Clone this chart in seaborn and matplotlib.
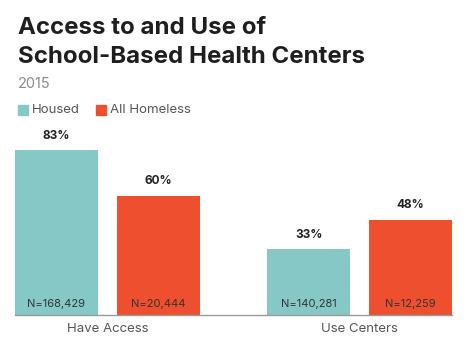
import seaborn as sns
import matplotlib.pyplot as plt
import pandas as pd

categories = ['Have Access', 'Use Centers']
groups = ['Housed', 'All Homeless']
housed = [83, 33]
homeless = [60, 48]
housed_n = ['N=168,429', 'N=140,281']
homeless_n = ['N=20,444', 'N=12,259']
title_lines = ['Access to and Use of', 'School-Based Health Centers']

colors = {'Housed': '#85C8C6', 'All Homeless': '#EE4F2E'}

if __name__ == '__main__':
    sns.set_style('white')
    plt.rcParams['font.family'] = ['Inter', 'DejaVu Sans']

    df = pd.DataFrame({
        'Category': categories * 2,
        'Group': [groups[0]] * 2 + [groups[1]] * 2,
        'Value': housed + homeless,
        'N': housed_n + homeless_n,
    })

    fig = plt.figure(figsize=(4.68, 3.5), dpi=100)
    ax = fig.add_axes([0.032, 0.1, 0.934, 0.511])
    sns.barplot(data=df, x='Category', y='Value', hue='Group', palette=colors,
                width=0.807, gap=0.185, saturation=1, linewidth=0,
                ax=ax, legend=False)

    ax.set_xlim(-0.366, 1.366)
    ax.set_ylim(0, 90)
    ax.set_xlabel('')
    ax.set_ylabel('')
    ax.set_yticks([])
    for s in ['top', 'right', 'left']:
        ax.spines[s].set_visible(False)
    ax.spines['bottom'].set_color('#999999')
    ax.spines['bottom'].set_linewidth(1)
    ax.tick_params(axis='x', length=0, pad=6, labelsize=9.5, labelcolor='#555555')

    for cont, nlabels in zip(ax.containers, [housed_n, homeless_n]):
        ax.bar_label(cont, labels=[f'{int(v)}%' for v in cont.datavalues],
                     padding=6, fontsize=8.5, fontweight='bold', color='#222222')
        for bar, lab in zip(cont, nlabels):
            ax.text(bar.get_x() + bar.get_width() / 2, 5.5, lab, ha='center',
                    va='center', fontsize=8, color='#333333')

    for line, yb in zip(title_lines, [0.903, 0.82]):
        fig.text(0.038, yb, line, fontsize=17.3, fontweight='bold',
                 color='#1e1e1e', va='baseline')
    fig.text(0.038, 0.748, '2015', fontsize=10.5, color='#8a8a8a', va='baseline')

    # legend
    for g, tx in zip(groups, [0.038, 0.205]):
        fig.patches.append(plt.Rectangle((tx, 0.672), 0.021, 0.029,
                                         transform=fig.transFigure,
                                         color=colors[g]))
        fig.text(tx + 0.03, 0.686, g, fontsize=9.5, color='#555555', va='center')

    fig.savefig('out.png', dpi=100)
